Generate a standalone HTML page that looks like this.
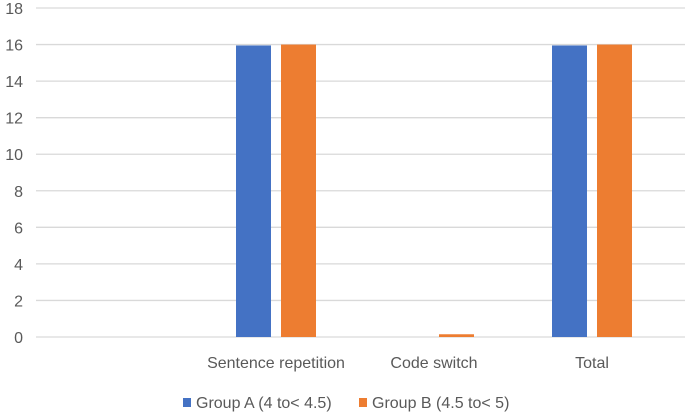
<!DOCTYPE html>
<html><head><meta charset="utf-8"><style>
html,body{margin:0;padding:0;background:#fff;}
svg{display:block;font-family:"Liberation Sans",sans-serif;}
</style></head><body>
<svg id="chart" width="685" height="415">
<g id="grid"></g><g id="bars"></g><g id="labels"></g>
<g>
<rect x="183" y="398" width="8" height="9" fill="#4472C4"/>
<text x="196" y="408" font-size="16" fill="#595959">Group A (4 to&lt; 4.5)</text>
<rect x="359" y="398" width="8" height="9" fill="#ED7D31"/>
<text x="372" y="408" font-size="16" fill="#595959">Group B (4.5 to&lt; 5)</text>
</g>
</svg>
<script>
const categories = ["", "Sentence repetition", "Code switch", "Total"];
const groupA = [0, 15.95, 0, 15.95];
const groupB = [0, 16, 0.15, 16];
const yTicks = [0, 2, 4, 6, 8, 10, 12, 14, 16, 18];
const NS = "http://www.w3.org/2000/svg";
const gx0 = 36, gx1 = 685, bandStart = 39, bandW = 158, yTop = 8, yBot = 337, yMax = 18;
function y(v){ return yBot - v / yMax * (yBot - yTop); }
function xc(i){ return bandStart + bandW * (i + 0.5); }
function mk(tag, attrs, parent){ const e = document.createElementNS(NS, tag); for (const k in attrs) e.setAttribute(k, attrs[k]); parent.appendChild(e); return e; }
const grid = document.getElementById('grid'), bars = document.getElementById('bars'), labels = document.getElementById('labels');
yTicks.forEach(t => {
  const l = mk('line', {x1: gx0, x2: gx1, y1: y(t), y2: y(t), stroke: '#d9d9d9', 'stroke-width': 1.3}, grid);
  
  
  const tx = mk('text', {x: 23, y: y(t) + 6, 'font-size': 16, fill: '#595959', 'text-anchor': 'end'}, labels);
  tx.textContent = t;
  
  
});
const bw = 35, gap = 10;
categories.forEach((c, i) => {
  const cx = xc(i);
  if (groupA[i] > 0) {
    const r = mk('rect', {x: cx - gap/2 - bw, y: y(groupA[i]), width: bw, height: yBot - y(groupA[i]), fill: '#4472C4'}, bars);
    
    
  }
  if (groupB[i] > 0) {
    const r = mk('rect', {x: cx + gap/2, y: y(groupB[i]), width: bw, height: yBot - y(groupB[i]), fill: '#ED7D31'}, bars);
    
    
  }
  const t = mk('text', {x: cx, y: 368, 'font-size': 16, fill: '#595959', 'text-anchor': 'middle'}, labels);
  t.textContent = c;
  
  
});
</script>
</body></html>
